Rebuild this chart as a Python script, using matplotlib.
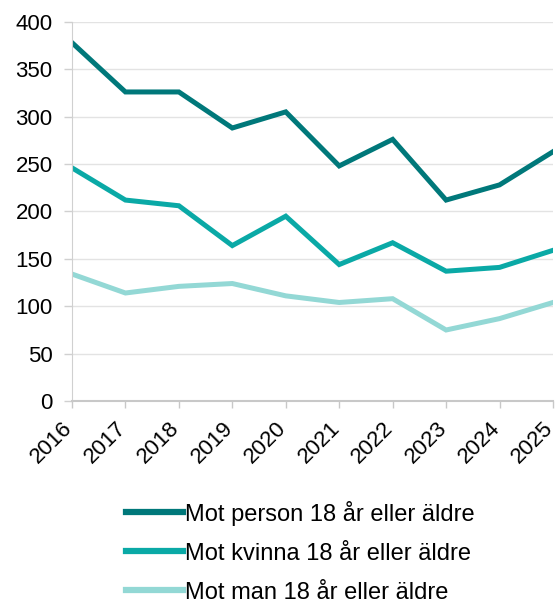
import matplotlib.pyplot as plt
import matplotlib.transforms as mtransforms

plt.rcParams['font.family'] = ['Liberation Sans', 'DejaVu Sans']

years = [2016, 2017, 2018, 2019, 2020, 2021, 2022, 2023, 2024, 2025]
person = [378, 326, 326, 288, 305, 248, 276, 212, 228, 263]
kvinna = [246, 212, 206, 164, 195, 144, 167, 137, 141, 159]
man = [134, 114, 121, 124, 111, 104, 108, 75, 87, 104]

labels = ["Mot person 18 år eller äldre",
          "Mot kvinna 18 år eller äldre",
          "Mot man 18 år eller äldre"]
colors = ["#00787A", "#0AA9A6", "#93D8D5"]

fig = plt.figure(figsize=(5.58, 6.05), dpi=100)
ax = fig.add_axes([0.129, 0.337, 0.862, 0.627])

lines = []
for vals, lab, c in zip([person, kvinna, man], labels, colors):
    l, = ax.plot(years, vals, color=c, lw=3.6, label=lab, solid_joinstyle='miter')
    lines.append(l)

ax.set_xlim(2016, 2025)
ax.set_ylim(0, 400)
ax.set_yticks(range(0, 401, 50))
ax.set_xticks(years)
ax.set_xticklabels([str(y) for y in years], rotation=45, ha='right',
                   rotation_mode='anchor', fontsize=16)
ax.tick_params(axis='y', labelsize=16, length=6, color='#D0D0D0', width=1, pad=8)
ax.tick_params(axis='x', length=5, color='#C8C8C8', width=1, pad=7)
# move the rotated years a bit left so the last one stays inside the figure
shift = mtransforms.ScaledTranslation(-10 / 100, 0, fig.dpi_scale_trans)
for t in ax.get_xticklabels():
    t.set_transform(t.get_transform() + shift)
ax.grid(axis='y', color='#E3E3E3', lw=1)
ax.set_axisbelow(True)
for s in ['top', 'right']:
    ax.spines[s].set_visible(False)
ax.spines['left'].set_color('#D0D0D0')
ax.spines['bottom'].set_color('#C8C8C8')
ax.spines['bottom'].set_linewidth(1.5)

leg = fig.legend(handles=lines, loc='upper left', bbox_to_anchor=(0.205, 0.192),
                 frameon=False, fontsize=17, handlelength=2.4, handletextpad=0.1,
                 labelspacing=0.72, borderpad=0)
for h in leg.get_lines():
    h.set_linewidth(4.5)

fig.savefig("out.png", dpi=100)
